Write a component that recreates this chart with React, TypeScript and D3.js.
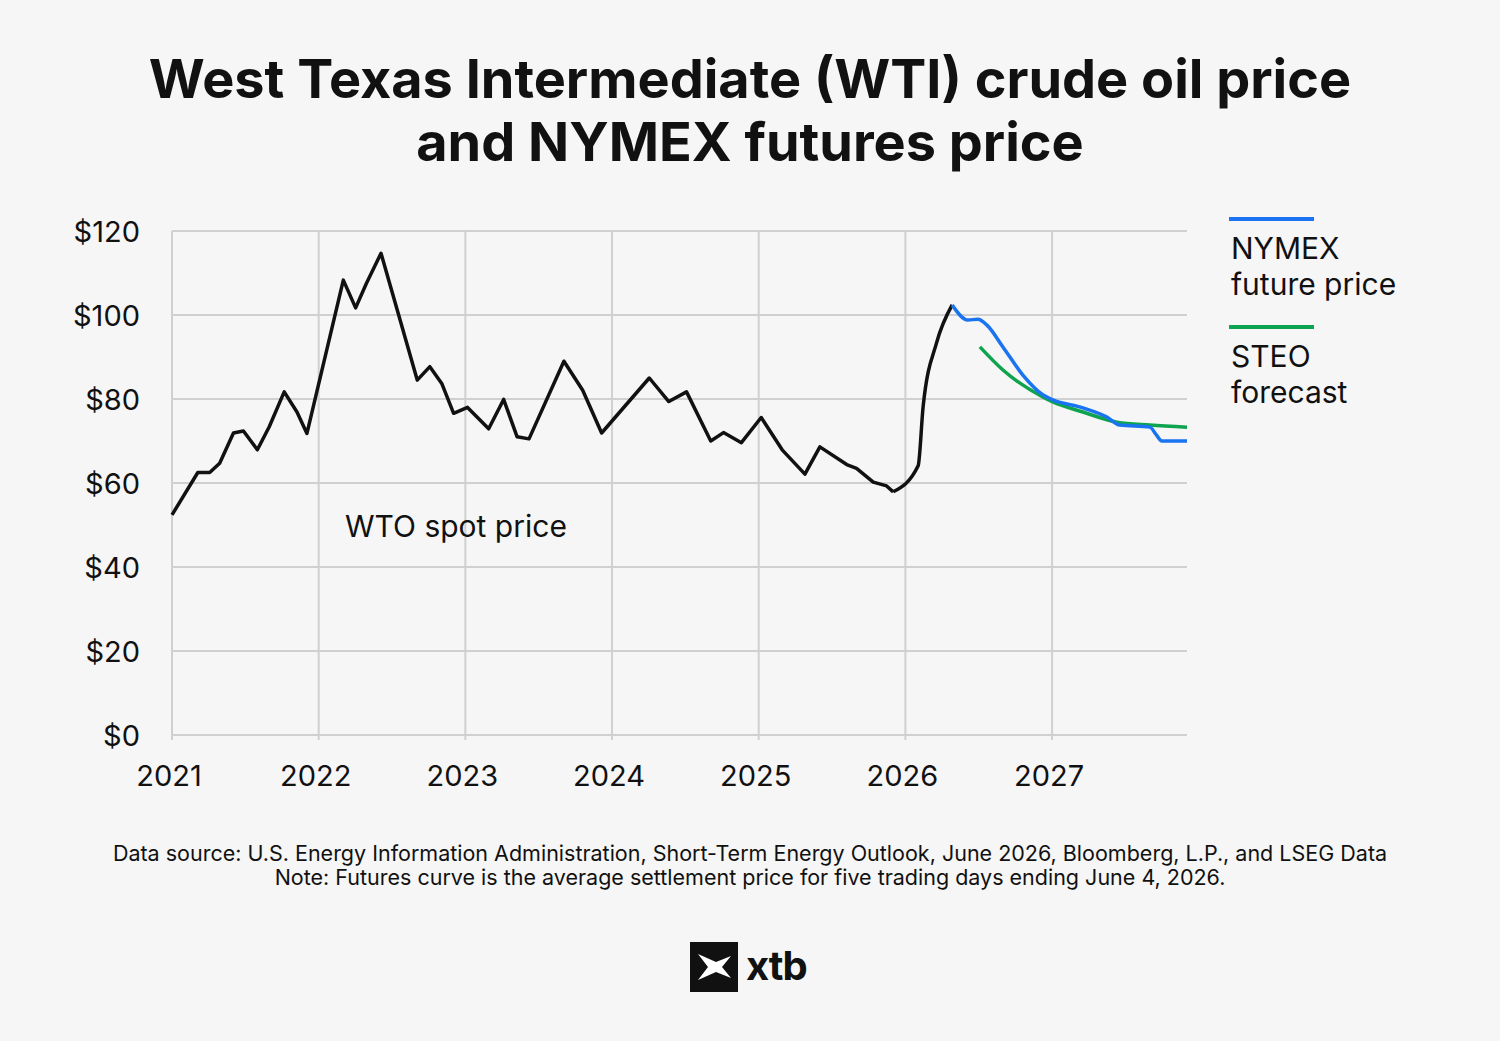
import React from "react";
import * as d3 from "d3";

// WTI spot price (decimal year, USD/barrel)
const spotT = [2021.0,2021.176,2021.257,2021.325,2021.419,2021.487,2021.582,2021.663,2021.765,2021.852,2021.92,2022.168,2022.252,2022.325,2022.425,2022.542,2022.672,2022.758,2022.839,2022.92,2023.015,2023.159,2023.261,2023.353,2023.434,2023.672,2023.8,2023.929,2024.254,2024.387,2024.508,2024.673,2024.76,2024.882,2025.017,2025.16,2025.315,2025.417,2025.6,2025.667,2025.781,2025.872,2025.917,2026.087,2026.121,2026.212,2026.319];
const spotV = [52.4,62.5,62.5,64.7,71.9,72.4,67.9,73.4,81.7,76.9,71.8,108.3,101.7,107.5,114.7,100.4,84.5,87.7,83.7,76.6,78,72.9,79.9,71,70.5,89,82.1,71.9,85,79.4,81.7,70,72,69.6,75.6,67.9,62.1,68.6,64.4,63.5,60.2,59.3,57.9,64.1,78.2,93.3,102.4];

const nymexT = [2026.319,2026.426,2026.494,2026.556,2026.665,2026.801,2026.937,2027.005,2027.21,2027.374,2027.462,2027.667,2027.71,2027.749,2027.92];
const nymexV = [102.4,98.8,99,97.6,92.4,85.7,81,79.8,77.9,75.7,73.8,73.3,71.5,70,70];
const steoT = [2026.508,2026.665,2026.937,2027.005,2027.21,2027.442,2027.667,2027.92];
const steoV = [92.4,86.9,80.5,79.3,76.9,74.5,73.8,73.3];

const yTicks = [0, 20, 40, 60, 80, 100, 120];
const xTicks = [2021, 2022, 2023, 2024, 2025, 2026, 2027];

export default function App() {
  const x = d3.scaleLinear().domain([2021, 2027.92]).range([172, 1187]);
  const y = d3.scaleLinear().domain([0, 120]).range([735, 231]);
  const font = "Inter, 'Noto Sans', sans-serif";

  const spot = spotT.map((t, i) => [t, spotV[i]] as [number, number]);
  const nymex = nymexT.map((t, i) => [t, nymexV[i]] as [number, number]);
  const steo = steoT.map((t, i) => [t, steoV[i]] as [number, number]);
  const lin = d3.line<[number, number]>().x(d => x(d[0])).y(d => y(d[1])).curve(d3.curveLinear);
  const smooth = d3.line<[number, number]>().x(d => x(d[0])).y(d => y(d[1])).curve(d3.curveMonotoneX);

  return (
    <svg width={1500} height={1041} style={{ position: "absolute", left: 0, top: 0 }} fontFamily={font}>
      <rect x={0} y={0} width={1500} height={1041} fill="#f6f6f6" />
      <text x={750} y={98} textAnchor="middle" fontSize={54} fontWeight={700} fill="#111" letterSpacing={0}>West Texas Intermediate (WTI) crude oil price</text>
      <text x={750} y={161} textAnchor="middle" fontSize={54} fontWeight={700} fill="#111" letterSpacing={0}>and NYMEX futures price</text>

      {yTicks.map(v => (
        <g key={v}>
          <line x1={172} x2={1187} y1={y(v)} y2={y(v)} stroke="#d0d0d0" strokeWidth={2} />
          <text x={140} y={y(v) + 11} textAnchor="end" fontSize={29} fill="#111">${v}</text>
        </g>
      ))}
      {xTicks.map(v => (
        <g key={v}>
          <line x1={x(v)} x2={x(v)} y1={231} y2={740} stroke="#d0d0d0" strokeWidth={2} />
          <text x={x(v) - 3} y={786} textAnchor="middle" fontSize={29} fill="#111">{v}</text>
        </g>
      ))}

      <path d={lin(spot.slice(0, 43)) || ""} fill="none" stroke="#111" strokeWidth={3.5} strokeLinejoin="round" />
      <path d={smooth(spot.slice(42)) || ""} fill="none" stroke="#111" strokeWidth={3.5} strokeLinejoin="round" />
      <path d={smooth(steo) || ""} fill="none" stroke="#0ea34f" strokeWidth={3.5} />
      <path d={smooth(nymex) || ""} fill="none" stroke="#1a73f0" strokeWidth={3.5} />

      <text x={345} y={537} fontSize={30} fill="#111">WTO spot price</text>

      <line x1={1229} x2={1314} y1={219} y2={219} stroke="#1a73f0" strokeWidth={4} />
      <text x={1231} y={259} fontSize={30} fill="#111">NYMEX</text>
      <text x={1231} y={295} fontSize={30} fill="#111">future price</text>
      <line x1={1229} x2={1314} y1={327} y2={327} stroke="#0ea34f" strokeWidth={4} />
      <text x={1231} y={367} fontSize={30} fill="#111">STEO</text>
      <text x={1231} y={403} fontSize={30} fill="#111">forecast</text>

      <text x={750} y={861} textAnchor="middle" fontSize={21.5} fill="#111">Data source: U.S. Energy Information Administration, Short-Term Energy Outlook, June 2026, Bloomberg, L.P., and LSEG Data</text>
      <text x={750} y={885} textAnchor="middle" fontSize={21.5} fill="#111">Note: Futures curve is the average settlement price for five trading days ending June 4, 2026.</text>

      <rect x={690} y={942} width={48} height={50} fill="#111" />
      <path d="M698,954 L716,962 L731,956 L722,967 L731,978 L716,972 L698,980 L708,967 Z" fill="#fff" />
      <text x={746} y={980} fontSize={40} fontWeight={700} fill="#111" letterSpacing={-1}>xtb</text>
    </svg>
  );
}
